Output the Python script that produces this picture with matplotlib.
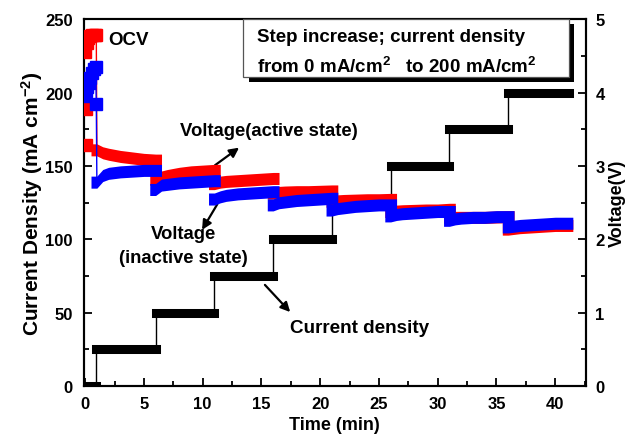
import matplotlib
matplotlib.use("Agg")
import matplotlib.pyplot as plt
from matplotlib.patches import Rectangle

plt.rcParams["font.family"] = ["Liberation Sans", "DejaVu Sans"]
plt.rcParams["font.weight"] = "bold"
plt.rcParams["mathtext.fontset"] = "custom"
plt.rcParams["mathtext.rm"] = "Liberation Sans:bold"
plt.rcParams["mathtext.it"] = "Liberation Sans:bold"
plt.rcParams["mathtext.bf"] = "Liberation Sans:bold"
plt.rcParams["mathtext.default"] = "rm"

# ---- current-density program (mA cm^-2) ----
step_times = [0.0, 0.9, 6.0, 11.0, 16.0, 21.0, 26.0, 31.0, 36.0, 41.2]
current_levels = [0, 25, 50, 75, 100, 125, 150, 175, 200]

# ---- open-circuit voltage before loading (V) ----
ocv_t_active = [0.0, 0.15, 0.25, 0.4, 0.6, 0.8, 0.95]
ocv_v_active = [4.55, 4.68, 4.74, 4.77, 4.78, 4.78, 4.78]
drop_t_active = [0.1, 0.1]
drop_v_active = [3.78, 3.28]

ocv_t_inactive = [0.0, 0.1, 0.2, 0.3, 0.45, 0.6, 0.75, 0.9, 0.95]
ocv_v_inactive = [3.95, 4.02, 4.08, 4.13, 4.20, 4.27, 4.32, 4.35, 3.84]

# ---- cell voltage under load (V) ----
load_starts = [1, 6, 11, 16, 21, 26, 31, 36]
load_offsets = [0, 0.5, 1, 2, 3, 4, 5]
v_active = [
    [3.22, 3.18, 3.16, 3.13, 3.11, 3.09, 3.08],
    [2.82, 2.85, 2.87, 2.90, 2.92, 2.93, 2.94],
    [2.76, 2.78, 2.79, 2.80, 2.81, 2.82, 2.83],
    [2.63, 2.64, 2.645, 2.65, 2.65, 2.655, 2.66],
    [2.52, 2.525, 2.53, 2.535, 2.54, 2.54, 2.545],
    [2.38, 2.385, 2.39, 2.395, 2.40, 2.40, 2.41],
    [2.30, 2.30, 2.30, 2.30, 2.30, 2.305, 2.31],
    [2.14, 2.15, 2.16, 2.17, 2.18, 2.19, 2.19],
]
v_inactive = [
    [2.78, 2.87, 2.90, 2.92, 2.93, 2.94, 2.94],
    [2.68, 2.74, 2.75, 2.77, 2.78, 2.79, 2.80],
    [2.55, 2.58, 2.60, 2.62, 2.63, 2.64, 2.65],
    [2.47, 2.50, 2.51, 2.53, 2.54, 2.55, 2.56],
    [2.40, 2.42, 2.43, 2.45, 2.46, 2.47, 2.47],
    [2.32, 2.34, 2.35, 2.36, 2.37, 2.38, 2.38],
    [2.26, 2.28, 2.29, 2.30, 2.30, 2.31, 2.31],
    [2.17, 2.18, 2.19, 2.20, 2.21, 2.22, 2.22],
]

fig = plt.figure(figsize=(6.36, 4.39), dpi=100)
ax = fig.add_axes([0.132, 0.118, 0.789, 0.836])
ax2 = ax.twinx()

MS = 8.6        # square marker size (pt)
HALF_V = 0.082  # half height of a marker trace in volts
HALF_T = 0.5    # half width of a marker trace in minutes
BAR = 6.5       # width of the current steps (pt)

# current-density steps with thin risers
for i, lvl in enumerate(current_levels):
    ax.plot([step_times[i], step_times[i + 1]], [lvl, lvl], color="k",
            lw=BAR, solid_capstyle="projecting", zorder=2)
    if i > 0:
        ax.plot([step_times[i], step_times[i]], [current_levels[i - 1], lvl],
                color="k", lw=1.0, zorder=2)


def marker_band(axis, t0, vals, color, z):
    """Dense square-marker trace for one load step, drawn as its envelope."""
    ts = [t0 - HALF_T] + [t0 + o for o in load_offsets] + [t0 + load_offsets[-1] + HALF_T]
    vs = [vals[0]] + list(vals) + [vals[-1]]
    axis.fill_between(ts, [v - HALF_V for v in vs], [v + HALF_V for v in vs],
                      color=color, lw=0, zorder=z)


# active-state voltage (red)
ax2.plot(ocv_t_active + [load_starts[0]], ocv_v_active + [v_active[0][0]],
         color="red", lw=1.0, marker="s", ms=MS, mec="red",
         markevery=list(range(len(ocv_t_active))), zorder=3)
ax2.plot(drop_t_active, drop_v_active, ls="none", marker="s", ms=MS,
         color="red", zorder=3)
for t0, vals in zip(load_starts, v_active):
    marker_band(ax2, t0, vals, "red", 3)

# inactive-state voltage (blue)
ax2.plot(ocv_t_inactive + [load_starts[0]], ocv_v_inactive + [v_inactive[0][0]],
         color="blue", lw=1.0, marker="s", ms=MS, mec="blue",
         markevery=list(range(len(ocv_t_inactive))), zorder=4)
for t0, vals in zip(load_starts, v_inactive):
    marker_band(ax2, t0, vals, "blue", 4)

# axes
ax.set_xlim(-0.1, 42.6)
ax.set_ylim(0, 250)
ax2.set_ylim(0, 5)
ax.set_xticks(range(0, 41, 5))
ax.set_xticks([x + 2.5 for x in range(0, 41, 5)], minor=True)
ax.set_yticks(range(0, 251, 50))
ax.set_yticks(range(25, 250, 50), minor=True)
ax2.set_yticks(range(0, 6))
ax2.set_yticks([0.5, 1.5, 2.5, 3.5, 4.5], minor=True)

for a in (ax, ax2):
    for s in a.spines.values():
        s.set_linewidth(1.5)
ax.tick_params(axis="both", which="both", direction="in", top=False,
               labelsize=12, width=1.3)
ax.tick_params(axis="both", which="major", length=6)
ax.tick_params(axis="both", which="minor", length=3.5)
ax.tick_params(axis="y", pad=8)
ax.tick_params(axis="x", pad=7)
ax2.tick_params(axis="y", which="both", direction="in", labelsize=12,
                width=1.3, pad=7)
ax2.tick_params(axis="y", which="major", length=6)
ax2.tick_params(axis="y", which="minor", length=3.5)

ax.set_xlabel("Time (min)", fontsize=13, fontweight="bold", labelpad=4)
ax.set_ylabel("Current Density (mA cm$^{-2}$)", fontsize=15,
              fontweight="bold", labelpad=0.5)
ax2.set_ylabel("Voltage(V)", fontsize=13, fontweight="bold", labelpad=3)

# annotations
ax.text(1.95, 236, "OCV", fontsize=13.5, fontweight="bold", va="center")
ax.text(8.1, 174.5, "Voltage(active state)", fontsize=13.3, fontweight="bold",
        va="center")
ax.text(8.4, 96, "Voltage\n(inactive state)", fontsize=13.3, fontweight="bold",
        va="center", ha="center", linespacing=1.5)
ax.text(17.4, 40, "Current density", fontsize=13.6, fontweight="bold",
        va="center")
arrow = dict(arrowstyle="-|>", color="k", lw=1.6, mutation_scale=14,
             shrinkA=0, shrinkB=0)
ax.annotate("", xy=(13.1, 162.5), xytext=(11.05, 150.5), arrowprops=arrow)
ax.annotate("", xy=(9.95, 106.5), xytext=(11.25, 124.0), arrowprops=arrow)
ax.annotate("", xy=(17.45, 50.5), xytext=(15.3, 69.0), arrowprops=arrow)

# boxed note with drop shadow
bx, by, bw, bh = 0.317, 0.842, 0.649, 0.158
ax2.add_patch(Rectangle((bx + 0.011, by - 0.014), bw, bh, transform=ax2.transAxes,
                        facecolor="k", edgecolor="none", zorder=6, clip_on=False))
ax2.add_patch(Rectangle((bx, by), bw, bh, transform=ax2.transAxes,
                        facecolor="white", edgecolor="#555555", lw=0.9,
                        zorder=7, clip_on=False))
ax2.text(0.345, 0.953, "Step increase; current density", transform=ax2.transAxes,
         fontsize=13.5, fontweight="bold", va="center", zorder=8)
ax2.text(0.345, 0.872, "from 0 mA/cm$^{2}$   to 200 mA/cm$^{2}$",
         transform=ax2.transAxes, fontsize=13.5, fontweight="bold",
         va="center", zorder=8)

fig.savefig("out.png", dpi=100)
